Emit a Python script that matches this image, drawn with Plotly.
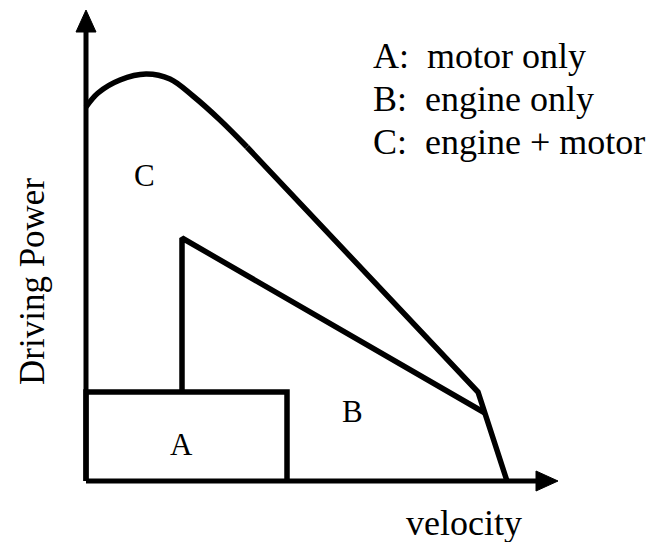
import plotly.graph_objects as go

# Data in drawing units (origin at the axes corner)
envelope_curve_x = [0, 12, 34, 60, 84, 107, 134, 161]
envelope_curve_y = [374, 388, 401, 407, 402, 385, 361, 334]
envelope_line_x = [161, 392, 421]
envelope_line_y = [334, 89, 0]
engine_x = [96, 96, 399]
engine_y = [89, 243, 68]
motor_x = [0, 0, 201, 201]
motor_y = [0, 89, 89, 0]
axis_x_len = 472
axis_y_len = 471
legend_lines = ["A:\u00a0 motor only", "B:\u00a0 engine only", "C:\u00a0 engine + motor"]
region_labels = ["C", "B", "A"]
region_pos = [(58, 306), (266, 70), (95, 37)]

K = "#000000"
LW = 5.5
fig = go.Figure()

arrow_len = 22
arrow_half = 10
fig.add_trace(go.Scatter(x=[0, 0], y=[0, axis_y_len - arrow_len + 2], mode="lines",
                         line=dict(color=K, width=5), hoverinfo="skip"))
fig.add_trace(go.Scatter(x=[0, axis_x_len - arrow_len + 2], y=[0, 0], mode="lines",
                         line=dict(color=K, width=5), hoverinfo="skip"))
fig.add_trace(go.Scatter(x=[-arrow_half, 0, arrow_half, -arrow_half],
                         y=[axis_y_len - arrow_len, axis_y_len, axis_y_len - arrow_len, axis_y_len - arrow_len],
                         mode="lines", fill="toself", fillcolor=K, line=dict(color=K, width=1), hoverinfo="skip"))
fig.add_trace(go.Scatter(x=[axis_x_len - arrow_len, axis_x_len, axis_x_len - arrow_len, axis_x_len - arrow_len],
                         y=[-arrow_half, 0, arrow_half, -arrow_half],
                         mode="lines", fill="toself", fillcolor=K, line=dict(color=K, width=1), hoverinfo="skip"))

fig.add_trace(go.Scatter(x=motor_x, y=motor_y, mode="lines", line=dict(color=K, width=LW), hoverinfo="skip"))
fig.add_trace(go.Scatter(x=engine_x, y=engine_y, mode="lines", line=dict(color=K, width=LW), hoverinfo="skip"))
fig.add_trace(go.Scatter(x=envelope_curve_x, y=envelope_curve_y, mode="lines",
                         line=dict(color=K, width=LW, shape="spline", smoothing=1.0), hoverinfo="skip"))
fig.add_trace(go.Scatter(x=envelope_line_x, y=envelope_line_y, mode="lines",
                         line=dict(color=K, width=LW), hoverinfo="skip"))

FONT = "Liberation Serif"
ann = []
for i, t in enumerate(legend_lines):
    ann.append(dict(x=285, y=425 - 43 * i, text=t, xanchor="left", yanchor="middle", showarrow=False,
                    font=dict(family=FONT, size=36, color=K)))
for t, (px, py) in zip(region_labels, region_pos):
    ann.append(dict(x=px, y=py, text=t, xanchor="center", yanchor="middle", showarrow=False,
                    font=dict(family=FONT, size=31, color=K)))
ann.append(dict(x=378, y=-42, text="velocity", xanchor="center", yanchor="middle", showarrow=False,
                font=dict(family=FONT, size=36, color=K)))
ann.append(dict(x=-54, y=199, text="Driving Power", textangle=-90, xanchor="center", yanchor="middle",
                showarrow=False, font=dict(family=FONT, size=35, color=K)))

fig.update_layout(
    width=649, height=534, autosize=False,
    margin=dict(l=0, r=0, t=0, b=0, pad=0),
    paper_bgcolor="white", plot_bgcolor="white",
    showlegend=False,
    xaxis=dict(range=[-78, 571], visible=False, fixedrange=True),
    yaxis=dict(range=[-61, 473], visible=False, fixedrange=True),
    annotations=ann,
)
fig.write_html("out.html")
